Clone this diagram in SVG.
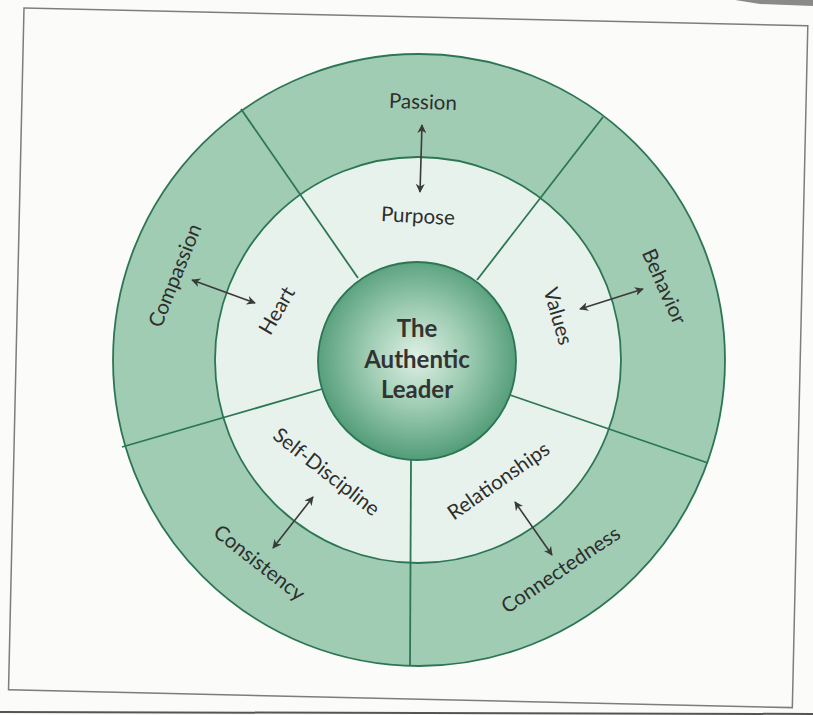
<svg xmlns="http://www.w3.org/2000/svg" width="813" height="715" viewBox="0 0 813 715">
  <defs>
    <radialGradient id="coreFill" cx="0.5" cy="0.48" r="0.55">
      <stop offset="0" stop-color="#dff0e6"/>
      <stop offset="0.45" stop-color="#9fcdb3"/>
      <stop offset="1" stop-color="#4a9772"/>
    </radialGradient>
    <marker id="head" viewBox="0 0 10 10" refX="9" refY="5" markerWidth="9" markerHeight="9" orient="auto-start-reverse" markerUnits="userSpaceOnUse">
      <path d="M0,0 L10,5 L0,10 L3,5 Z" fill="#3a3a3a"/>
    </marker>
    <style>
      .ring { stroke: #2c7654; stroke-width: 1.8; }
      .divider { stroke: #2c7654; stroke-width: 1.8; fill: none; }
      .label { font-family: Lato, "Open Sans", "Liberation Sans", sans-serif; font-size: 20.5px; fill: #2e2e2e; text-anchor: middle; dominant-baseline: central; }
      .core { font-family: Lato, "Open Sans", "Liberation Sans", sans-serif; font-size: 24px; font-weight: bold; fill: #333333; text-anchor: middle; }
      .link { stroke: #3a3a3a; stroke-width: 1.6; fill: none; marker-start: url(#head); marker-end: url(#head); }
    </style>
  </defs>

  <!-- page -->
  <rect x="0" y="0" width="813" height="715" fill="#fbfbfa"/>
  <polygon points="735,0 813,0 813,6 760,4" fill="#5a5a5a" opacity="0.7"/>
  <rect x="24" y="8" width="784" height="682" fill="none" stroke="#7d7d7d" stroke-width="1.5" transform="rotate(1.3 24 8)"/>
  <line x1="0" y1="712" x2="813" y2="714" stroke="#555555" stroke-width="2"/>

  <!-- rings -->
  <g id="rings">
    <circle class="ring" cx="419" cy="360" r="306" fill="#a0ccb4"/>
    <circle class="ring" cx="418" cy="360" r="203" fill="#e8f2ec"/>
    <line class="divider" x1="358" y1="278" x2="241" y2="109"/>
    <line class="divider" x1="477" y1="280" x2="603" y2="117"/>
    <line class="divider" x1="510" y1="395" x2="708" y2="463"/>
    <line class="divider" x1="411" y1="460" x2="410" y2="666"/>
    <line class="divider" x1="322" y1="389" x2="122" y2="447"/>
  </g>

  <!-- centre -->
  <g id="authentic-leader">
    <circle class="ring" cx="417" cy="361" r="99" fill="url(#coreFill)"/>
    <text class="core" x="417" y="337">The</text>
    <text class="core" x="417" y="368">Authentic</text>
    <text class="core" x="417" y="398">Leader</text>
  </g>

  <!-- inner ring -->
  <g id="purpose"><text class="label" x="418" y="215" transform="rotate(3 418 215)">Purpose</text></g>
  <g id="values"><text class="label" x="559" y="316" transform="rotate(74 559 316)">Values</text></g>
  <g id="relationships"><text class="label" x="498" y="480" transform="rotate(-35 498 480)">Relationships</text></g>
  <g id="self-discipline"><text class="label" x="327" y="471" transform="rotate(38 327 471)">Self-Discipline</text></g>
  <g id="heart"><text class="label" x="276" y="310" transform="rotate(-60 276 310)">Heart</text></g>

  <!-- outer ring -->
  <g id="passion"><text class="label" x="423" y="101" transform="rotate(2 423 101)">Passion</text></g>
  <g id="behavior"><text class="label" x="665" y="286" transform="rotate(66 665 286)">Behavior</text></g>
  <g id="connectedness"><text class="label" x="560" y="569" transform="rotate(-34 560 569)">Connectedness</text></g>
  <g id="consistency"><text class="label" x="260" y="562" transform="rotate(38 260 562)">Consistency</text></g>
  <g id="compassion"><text class="label" x="174" y="275" transform="rotate(-68 174 275)">Compassion</text></g>

  <!-- connectors -->
  <g id="connectors">
    <line class="link" x1="422" y1="125" x2="420" y2="192"/>
    <line class="link" x1="192" y1="280" x2="255" y2="303"/>
    <line class="link" x1="580" y1="309" x2="643" y2="289"/>
    <line class="link" x1="313" y1="497" x2="273" y2="548"/>
    <line class="link" x1="515" y1="502" x2="552" y2="555"/>
  </g>
</svg>
